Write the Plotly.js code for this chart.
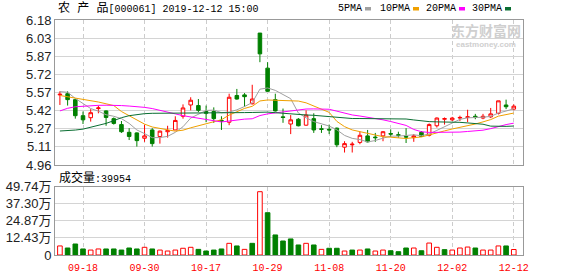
<!DOCTYPE html>
<html><head><meta charset="utf-8">
<script src="https://cdn.plot.ly/plotly-3.0.1.min.js"></script>
<style>html,body{margin:0;padding:0;background:#fff;}#chart{width:578px;height:276px;}</style>
</head><body><div id="chart"></div>
<script>
// ---- data ----
const dates = ['09-12','09-16','09-17','09-18','09-19','09-20','09-23','09-24','09-25','09-26','09-27','09-30',
'10-08','10-09','10-10','10-11','10-14','10-15','10-16','10-17','10-18','10-21','10-22','10-23','10-24','10-25','10-28','10-29','10-30','10-31',
'11-01','11-04','11-05','11-06','11-07','11-08','11-11','11-12','11-13','11-14','11-15','11-18','11-19','11-20','11-21','11-22','11-25','11-26','11-27','11-28','11-29',
'12-02','12-03','12-04','12-05','12-06','12-09','12-10','12-11','12-12'];
const openP = [5.55,5.56,5.51,5.375,5.358,5.435,5.415,5.35,5.30,5.235,5.23,5.185,5.255,5.20,5.24,5.255,5.37,5.465,5.46,5.41,
5.41,5.335,5.32,5.545,5.55,5.475,6.07,5.775,5.51,5.365,5.305,5.345,5.295,5.35,5.265,5.26,5.27,5.11,5.13,5.15,
5.205,5.195,5.205,5.225,5.215,5.20,5.19,5.235,5.21,5.29,5.345,5.34,5.355,5.36,5.37,5.355,5.365,5.395,5.465,5.43];
const highP = [5.58,5.58,5.51,5.41,5.43,5.46,5.42,5.36,5.33,5.27,5.235,5.30,5.27,5.25,5.29,5.37,5.47,5.53,5.515,5.46,
5.445,5.37,5.56,5.60,5.565,5.635,6.07,5.825,5.56,5.435,5.38,5.355,5.42,5.395,5.295,5.30,5.275,5.16,5.155,5.24,
5.255,5.23,5.245,5.26,5.24,5.27,5.22,5.245,5.31,5.36,5.36,5.365,5.375,5.425,5.39,5.39,5.44,5.50,5.51,5.47];
const lowP = [5.465,5.46,5.35,5.305,5.325,5.395,5.29,5.30,5.23,5.17,5.115,5.155,5.115,5.14,5.19,5.255,5.35,5.42,5.405,5.32,
5.315,5.255,5.295,5.51,5.45,5.47,5.825,5.575,5.41,5.315,5.22,5.285,5.29,5.23,5.23,5.22,5.11,5.065,5.065,5.135,
5.15,5.155,5.16,5.195,5.19,5.145,5.155,5.195,5.20,5.275,5.30,5.33,5.33,5.32,5.345,5.345,5.355,5.385,5.43,5.42];
const closeP = [5.555,5.51,5.375,5.34,5.40,5.44,5.36,5.31,5.24,5.20,5.165,5.205,5.14,5.245,5.25,5.335,5.44,5.505,5.42,5.395,
5.35,5.33,5.53,5.515,5.535,5.515,5.895,5.58,5.415,5.36,5.34,5.29,5.38,5.255,5.26,5.255,5.13,5.14,5.135,5.21,
5.155,5.19,5.24,5.22,5.21,5.195,5.205,5.20,5.30,5.355,5.35,5.355,5.36,5.365,5.36,5.37,5.39,5.50,5.45,5.455];
const ma5 = [5.577,5.572,5.52,5.48,5.435,5.413,5.383,5.37,5.35,5.31,5.255,5.224,5.19,5.191,5.201,5.235,5.282,5.355,5.39,5.419,
5.422,5.40,5.405,5.424,5.452,5.485,5.598,5.608,5.588,5.553,5.518,5.397,5.357,5.325,5.305,5.288,5.256,5.209,5.184,5.174,
5.154,5.166,5.186,5.203,5.203,5.211,5.214,5.206,5.222,5.251,5.282,5.312,5.344,5.357,5.358,5.362,5.369,5.397,5.414,5.433];
const ma10 = [5.545,5.535,5.525,5.51,5.50,5.49,5.475,5.46,5.41,5.373,5.334,5.304,5.28,5.271,5.256,5.245,5.253,5.273,5.291,5.31,
5.329,5.341,5.38,5.407,5.436,5.454,5.499,5.507,5.506,5.503,5.502,5.498,5.483,5.456,5.429,5.403,5.327,5.283,5.255,5.24,
5.222,5.212,5.198,5.194,5.189,5.183,5.19,5.196,5.213,5.227,5.247,5.263,5.275,5.29,5.305,5.323,5.342,5.371,5.387,5.397];
const ma20 = [5.415,5.437,5.45,5.455,5.458,5.462,5.463,5.463,5.46,5.456,5.452,5.445,5.435,5.418,5.405,5.39,5.375,5.365,5.355,5.345,
5.331,5.322,5.33,5.339,5.346,5.349,5.376,5.39,5.398,5.406,5.415,5.419,5.431,5.432,5.432,5.429,5.413,5.395,5.381,5.372,
5.362,5.355,5.34,5.326,5.309,5.293,5.259,5.24,5.234,5.234,5.235,5.238,5.237,5.242,5.247,5.253,5.266,5.284,5.30,5.312];
const ma30 = [5.246,5.248,5.254,5.262,5.277,5.29,5.31,5.333,5.358,5.375,5.386,5.392,5.395,5.395,5.395,5.397,5.397,5.397,5.397,5.398,
5.398,5.399,5.40,5.40,5.401,5.402,5.405,5.405,5.40,5.395,5.388,5.381,5.381,5.378,5.373,5.367,5.36,5.354,5.351,5.351,
5.351,5.35,5.353,5.353,5.351,5.347,5.339,5.329,5.325,5.323,5.323,5.324,5.319,5.314,5.308,5.303,5.287,5.284,5.285,5.288];
const volume = [66000,51000,80000,44000,36000,44000,44000,44000,36000,51000,44000,56000,44000,36000,29000,36000,49000,56000,41000,29000,
36000,44000,85000,66000,41000,85000,461000,308000,146000,102000,117000,73000,85000,73000,41000,49000,49000,29000,36000,36000,
44000,29000,36000,31000,24000,51000,51000,31000,87000,56000,39000,36000,51000,58000,51000,36000,36000,66000,66000,39954];
const tickDates = ['09-18','09-30','10-17','10-29','11-08','11-20','12-02','12-12'];
const priceTickVals = [4.96,5.1125,5.265,5.4175,5.57,5.7225,5.875,6.0275,6.18];
const priceTickText = ['4.96','5.11','5.27','5.42','5.57','5.72','5.87','6.03','6.18'];
const volTickVals = [0,124350,248700,373050,497400];
const volTickText = ['0','12.43万','24.87万','37.30万','49.74万'];
const maNames = ['5PMA','10PMA','20PMA','30PMA'];
const maColors = ['#a0a0a0','#f0a000','#ff00ff','#0a6e32'];
const titleText = '<span style="font-size:12px">农 产 品</span>[000061] 2019-12-12 15:00';
const volLabel = '<span style="font-size:12px">成交量</span>:39954';

// ---- chart ----
const W = 578, H = 276;
const px = v => v / W, py = v => 1 - v / H;
const RED = '#ff0000', GREEN = '#008000';
const xDom = [px(55), px(523)];
const xr = [-0.64, 60.2];

const up = closeP.map((c, i) => i === 0 || c >= closeP[i - 1]);
const traces = [];
traces.push({
  type: 'candlestick', x: dates, open: openP, high: highP, low: lowP, close: closeP,
  xaxis: 'x', yaxis: 'y', hoverinfo: 'skip', whiskerwidth: 0,
  increasing: {line: {color: RED, width: 1}, fillcolor: '#ffffff'},
  decreasing: {line: {color: GREEN, width: 1}, fillcolor: GREEN}
});
[ma5, ma10, ma20, ma30].forEach((m, k) => traces.push({
  type: 'scatter', mode: 'lines', x: dates, y: m, xaxis: 'x', yaxis: 'y',
  line: {color: maColors[k], width: 1}, hoverinfo: 'skip', name: maNames[k]
}));
traces.push({
  type: 'bar', x: dates, y: volume, xaxis: 'x2', yaxis: 'y2', hoverinfo: 'skip',
  marker: {color: up.map(u => u ? '#ffffff' : GREEN),
           line: {color: up.map(u => u ? RED : GREEN), width: 1}}
});

const axisCommon = {showline: true, mirror: true, linecolor: '#999', linewidth: 1, zeroline: false, fixedrange: true, ticks: ''};
const yFont = {family: 'Liberation Sans, Arial, Noto Sans CJK SC', size: 13, color: '#222'};
const annFont = {family: 'Liberation Mono, Noto Sans CJK SC', size: 10, color: '#000'};

const annotations = [
  {xref: 'paper', yref: 'paper', x: px(56), y: py(8), xanchor: 'left', yanchor: 'middle', text: titleText, showarrow: false, font: annFont},
  {xref: 'paper', yref: 'paper', x: px(57), y: py(178), xanchor: 'left', yanchor: 'middle', text: volLabel, showarrow: false, font: annFont},
  {xref: 'paper', yref: 'paper', x: px(486), y: py(30), xanchor: 'center', yanchor: 'middle', text: '<b>东方财富网</b>', showarrow: false,
   font: {family: 'Noto Sans CJK SC', size: 14, color: '#cfcfcf'}, borderpad: 0},
  {xref: 'paper', yref: 'paper', x: px(486), y: py(44.5), xanchor: 'center', yanchor: 'middle', text: '<b>eastmoney.com</b>', showarrow: false,
   font: {family: 'Liberation Sans', size: 8, color: '#cfcfcf'}, borderpad: 0}
];
const legX = [337, 379, 425, 471];
const legBox = [[365, 371], [413, 419], [459, 465], [505, 511]];
const shapes = [];
maNames.forEach((n, k) => {
  annotations.push({xref: 'paper', yref: 'paper', x: px(legX[k]), y: py(8.5), xanchor: 'left', yanchor: 'middle',
    text: n, showarrow: false, font: annFont, borderpad: 0});
  shapes.push({type: 'rect', xref: 'paper', yref: 'paper', x0: px(legBox[k][0]), x1: px(legBox[k][1]), y0: py(10.5), y1: py(7),
    fillcolor: maColors[k], line: {width: 0}});
});

const layout = {
  width: W, height: H, margin: {l: 0, r: 0, t: 0, b: 0},
  paper_bgcolor: '#fff', plot_bgcolor: '#fff', showlegend: false,
  boxgap: 0.34, bargap: 0.4,
  xaxis: Object.assign({}, axisCommon, {domain: xDom, anchor: 'y', type: 'category', range: xr, tickvals: tickDates,
    showticklabels: false, showgrid: true, gridcolor: '#cccccc', griddash: '4px,3px', rangeslider: {visible: false}}),
  yaxis: Object.assign({}, axisCommon, {domain: [py(165), py(20)], anchor: 'x', range: [4.96, 6.18], tickvals: priceTickVals,
    ticktext: priceTickText, showgrid: true, gridcolor: '#d4d4d4', tickfont: yFont}),
  xaxis2: Object.assign({}, axisCommon, {domain: xDom, anchor: 'y2', type: 'category', range: xr, tickvals: tickDates,
    showticklabels: true, showgrid: true, gridcolor: '#cccccc', griddash: '4px,3px', ticklabelstandoff: 3,
    tickfont: {family: 'Liberation Mono', size: 10, color: RED}}),
  yaxis2: Object.assign({}, axisCommon, {domain: [py(255), py(186.7)], anchor: 'x2', range: [0, 497400], tickvals: volTickVals,
    ticktext: volTickText, showgrid: true, gridcolor: '#d4d4d4', tickfont: yFont}),
  annotations: annotations, shapes: shapes
};
Plotly.newPlot('chart', traces, layout, {displayModeBar: false, staticPlot: true});
</script></body></html>
